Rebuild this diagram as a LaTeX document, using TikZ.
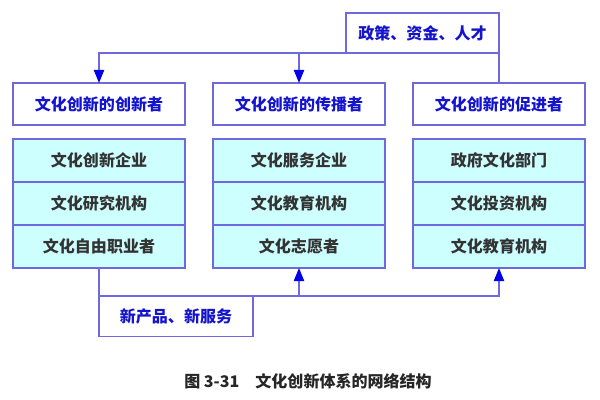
\documentclass[tikz,border=0pt]{standalone}
\usepackage{fontspec}
\newfontfamily\cjk{Noto Sans CJK SC}
\usepackage{xcolor}
\usepackage{tikz}
\usetikzlibrary{positioning,arrows.meta}
\definecolor{edgeblue}{RGB}{110,105,225}
\definecolor{textblue}{RGB}{20,20,205}
\definecolor{tipblue}{RGB}{0,0,235}
\definecolor{cellfill}{RGB}{206,255,255}
\begin{document}
\begin{tikzpicture}[
  font=\cjk\bfseries\fontsize{11.4}{13}\selectfont,
  outer sep=0pt,
  head/.style={draw=edgeblue, line width=0.9pt, fill=white, text=textblue, align=center, minimum width=4.3cm, minimum height=1.05cm},
  item/.style={draw=edgeblue, line width=0.9pt, fill=cellfill, text=black!80, align=center, minimum width=4.3cm, minimum height=1.075cm},
  note/.style={draw=edgeblue, line width=0.9pt, fill=white, text=textblue, align=center, minimum width=3.85cm, minimum height=1.02cm},
  line/.style={draw=edgeblue, line width=0.9pt},
  arrow/.style={line, -{Triangle[width=2.6mm,length=3.3mm,color=tipblue]}}
]
\useasboundingbox (0,0) rectangle (15,10);

\node[head] (creator) at (2.475,7.4) {文化创新的创新者};
\node[head, right=7mm of creator] (spreader) {文化创新的传播者};
\node[head, right=7mm of spreader] (promoter) {文化创新的促进者};
\node[note, above=7.5mm of promoter.north, anchor=south east, minimum width=3.825cm, minimum height=1.0cm] (policy) {政策、资金、人才};

\node[item, below=3.5mm of creator] (c11) {文化创新企业};
\node[item, below=0pt of c11] (c12) {文化研究机构};
\node[item, below=0pt of c12] (c13) {文化自由职业者};
\node[item, below=3.5mm of spreader] (c21) {文化服务企业};
\node[item, below=0pt of c21] (c22) {文化教育机构};
\node[item, below=0pt of c22] (c23) {文化志愿者};
\node[item, below=3.5mm of promoter] (c31) {政府文化部门};
\node[item, below=0pt of c31] (c32) {文化投资机构};
\node[item, below=0pt of c32] (c33) {文化教育机构};

\node[note, below=7mm of c13.south, anchor=north west] (newprod) {新产品、新服务};

\node[font=\cjk\bfseries\fontsize{11.4}{13}\selectfont, text=black!85] (caption) at (7.7,0.475) {图 3-31\quad 文化创新体系的网络结构};

% top feed
\draw[line] (policy.south east) -- (promoter.north);
\draw[arrow] (policy.south west) -| (creator.north);
\draw[arrow] (policy.south west -| spreader.north) -- (spreader.north);

% bottom feed
\draw[line] (c13.south) -- (newprod.north west);
\draw[arrow] (newprod.north east) -| (c33.south);
\draw[arrow] (newprod.north east -| c23.south) -- (c23.south);

\end{tikzpicture}
\end{document}
